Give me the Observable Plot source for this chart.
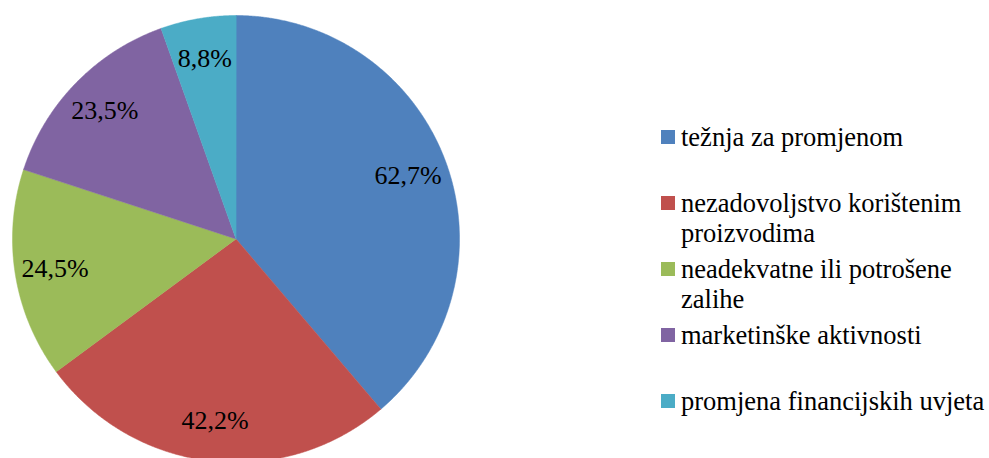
<!DOCTYPE html>
<html>
<head>
<meta charset="utf-8">
<script src="https://cdn.jsdelivr.net/npm/d3@7"></script>
<script src="https://cdn.jsdelivr.net/npm/@observablehq/plot@0.6"></script>
<style>
  html, body { margin: 0; padding: 0; background: #fff; overflow: hidden; }
  #wrap { position: relative; width: 989px; height: 458px; }
  #legend { position: absolute; left: 661px; top: 122px; font-family: 'Liberation Serif', serif; font-size: 26.5px; line-height: 30px; color: #000; }
  .entry { display: flex; align-items: flex-start; height: 66px; }
  .sw { width: 14px; height: 14px; margin-top: 8px; margin-right: 6px; flex: none; }
  .lab { width: 318px; font-family: 'Liberation Serif', serif; }
</style>
</head>
<body>
<div id="wrap"><div id="legend"></div></div>
<script>
const categories = [
  "težnja za promjenom",
  "nezadovoljstvo korištenim proizvodima",
  "neadekvatne ili potrošene zalihe",
  "marketinške aktivnosti",
  "promjena financijskih uvjeta"
];
const values = [62.7, 42.2, 24.5, 23.5, 8.8];
const colors = ["#4F81BD", "#C0504D", "#9BBB59", "#8064A2", "#4BACC6"];

const data = categories.map((c, i) => ({label: c, value: values[i]}));
const arcs = d3.pie().sort(null).value(d => d.value)(data);

// slice outlines in unit-circle coordinates (angle 0 at top, clockwise)
const pts = [];
for (const a of arcs) {
  pts.push({label: a.data.label, x: 0, y: 0});
  const n = Math.max(2, Math.ceil((a.endAngle - a.startAngle) / 0.005));
  for (let k = 0; k <= n; k++) {
    const t = a.startAngle + (a.endAngle - a.startAngle) * k / n;
    pts.push({label: a.data.label, x: Math.sin(t), y: Math.cos(t)});
  }
}
const labelR = 0.82;
const labels = arcs.map(a => {
  const m = (a.startAngle + a.endAngle) / 2;
  return {
    label: a.data.label,
    x: labelR * Math.sin(m),
    y: labelR * Math.cos(m),
    text: a.data.value.toFixed(1).replace(".", ",") + "%"
  };
});

const W = 989, H = 458, cx = 235.5, cy = 238.5, R = 223.5;
const chart = Plot.plot({
  width: W,
  height: H,
  margin: 0,
  style: {fontFamily: "'Liberation Serif', serif"},
  x: {domain: [-cx / R, (W - cx) / R], axis: null},
  y: {domain: [-(H - cy) / R, cy / R], axis: null},
  color: {domain: categories, range: colors},
  marks: [
    Plot.line(pts, {x: "x", y: "y", z: "label", fill: "label", stroke: "label", strokeWidth: 0.5, curve: "linear-closed"}),
    Plot.text(labels, {x: "x", y: "y", text: "text", fill: "black", fontSize: 26, fontFamily: "'Liberation Serif', serif"})
  ]
});
document.getElementById("wrap").prepend(chart);

const scale = chart.scale("color");
const legend = document.getElementById("legend");
categories.forEach((c, i) => {
  const e = document.createElement("div");
  e.className = "entry";
  const s = document.createElement("div");
  s.className = "sw";
  s.style.background = scale.range[scale.domain.indexOf(c)];
  const t = document.createElement("div");
  t.className = "lab";
  t.textContent = c;
  e.append(s, t);
  legend.append(e);
});
</script>
</body>
</html>
